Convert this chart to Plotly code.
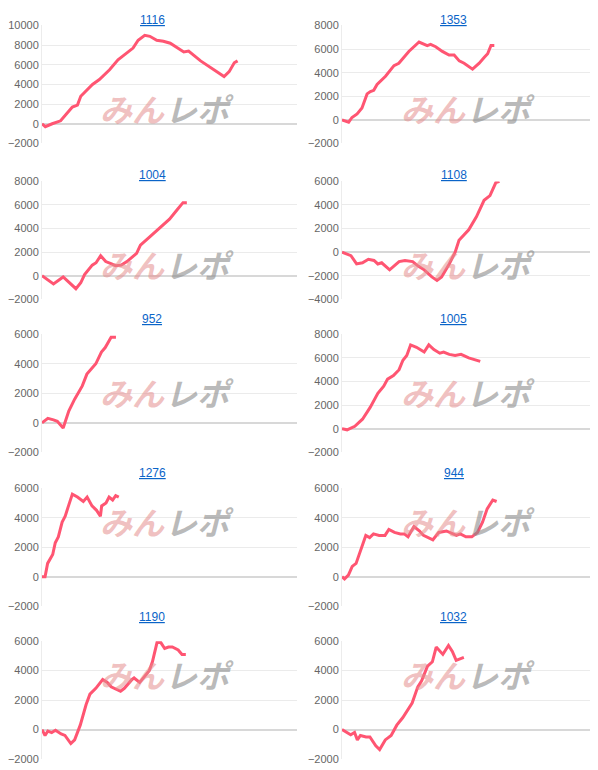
import plotly.graph_objects as go

titles = ["1116", "1353", "1004", "1108", "952", "1005", "1276", "944", "1190", "1032"]
yranges = [[-2000, 10000], [-2000, 8000], [-2000, 8000], [-4000, 6000], [-2000, 6000],
           [-2000, 8000], [-2000, 6000], [-2000, 6000], [-2000, 6000], [-2000, 6000]]

x_1116 = [0,1.3,4,7.3,11.9,13.9,15.2,19.8,22.5,26.5,29.8,33,35.7,37.7,40.3,42.3,45,47.6,50.3,55.6,57.5,62.2,66.1,71.4,73.4,75.4,76.7]
y_1116 = [0,-300,0,300,1700,1900,2800,4000,4500,5500,6500,7200,7700,8500,9000,8900,8500,8400,8200,7300,7400,6400,5700,4800,5300,6200,6400]
x_1353 = [0,2.6,3.9,5.9,7.8,9.8,11.1,12.4,13.7,17,20.3,22.2,26.1,30.1,33.3,34.6,36.6,39.2,41.8,43.8,45.8,47.7,51,53.6,55.6,56.9,58.2,59.5]
y_1353 = [0,-200,200,500,1000,2200,2400,2500,3000,3700,4600,4800,5800,6600,6300,6400,6200,5800,5500,5500,5000,4800,4300,4800,5300,5600,6300,6300]
x_1004 = [0,4.5,8.3,11.4,13.3,15.2,16.7,19.7,21.2,23,25,27.3,28.8,31.1,33.3,37.1,38.6,41.7,47,50,53,55.3,56.8]
y_1004 = [0,-700,-100,-700,-1100,-600,100,900,1100,1700,1200,1000,850,900,1200,1900,2600,3200,4200,4800,5600,6200,6200]
x_1108 = [0,3.5,5.7,8,10.3,12.5,14,15.5,18.6,22.3,24.6,27.6,29.9,32.1,35.1,37.1,38.9,41.9,44.2,45.7,49.5,52.5,55.5,57.8,60.1,61.5]
y_1108 = [0,-300,-1000,-900,-600,-700,-1000,-900,-1500,-800,-700,-800,-1200,-1500,-2100,-2400,-2100,-1000,0,1000,1900,3000,4400,4800,5900,6000]
x_952 = [0,2.3,4.5,6,8.3,10.5,12.8,15.8,17.6,21.1,23.3,24.8,27.1,29]
y_952 = [0,300,200,100,-350,800,1600,2500,3300,4000,4800,5100,5800,5800]
x_1005 = [0,2,5,8,11,14,16.3,17.8,20.1,22.3,23.8,25.3,26.8,29.1,32.1,33.9,35.9,38.2,39.7,41.9,44.2,46.5,49.5,54]
y_1005 = [0,-100,200,800,1800,3000,3600,4200,4500,5000,5800,6200,7100,6900,6500,7100,6700,6400,6500,6300,6200,6300,6000,5700]
x_1276 = [0,1.2,2.2,4.2,5.2,6.4,7.9,9.1,10.2,11.9,13.9,16.2,17.7,19.6,21.4,22.9,23.4,25.1,26.3,27.7,28.9,30.1]
y_1276 = [0,0,900,1500,2300,2700,3700,4100,4700,5600,5400,5100,5400,4800,4500,4100,4800,5000,5400,5200,5500,5400]
x_944 = [0,1,2.5,4,5.5,9.3,10.8,12.3,14.5,16.8,18.3,20.5,22.8,24.3,25.8,28.1,30.3,31.8,35.5,37.8,40.8,43.2,44.7,46.2,48.4,50.7,52.9,54.9,56.7,58.9,60.4]
y_944 = [0,-150,100,700,900,2800,2650,2900,2800,2800,3200,3000,2900,2900,2700,3400,3100,2800,2500,3000,3100,2900,2800,2900,2700,2700,3000,3700,4600,5200,5100]
x_1190 = [0,1.2,2.3,3.8,5.3,7.5,9,11.3,12.8,15,17.3,18.8,21.1,23.8,25.6,27.1,30.8,32.3,35.3,36.1,38.3,40.6,42.1,43.3,44.4,45.1,46.6,48.1,49.6,51.1,53.4,54.9,56.4]
y_1190 = [0,-400,-100,-200,-50,-300,-400,-950,-700,300,1700,2400,2800,3400,3200,2900,2600,2800,3400,3500,3200,3700,4000,4600,5400,5900,5900,5500,5600,5600,5400,5100,5100]
x_1032 = [0,1.9,3.4,4.9,6,7.2,9.4,10.9,13.2,14.7,16.9,19.2,21.4,23.7,25.1,27.4,29.6,31.1,33.4,35.3,36.8,39.4,41.6,43.1,44.6,46.1,47.6]
y_1032 = [0,-200,-350,-200,-700,-400,-500,-500,-1100,-1350,-700,-400,300,800,1200,1800,2900,3300,4300,4600,5600,5100,5700,5300,4700,4800,4900]

xs = [x_1116, x_1353, x_1004, x_1108, x_952, x_1005, x_1276, x_944, x_1190, x_1032]
ys = [y_1116, y_1353, y_1004, y_1108, y_952, y_1005, y_1276, y_944, y_1190, y_1032]

W, H = 598, 770


def py(p):
    # target pixel row -> paper fraction (corrects for page offset)
    return 1 - ((p - 12.5) / 0.985) / H


tops = [24, 180, 333, 487, 640]
ph = 118
xdom = [[34 / W, 289 / W], [334 / W, 590 / W]]
title_x = [144, 446]
wm_x = [157, 458]

fig = go.Figure()
ann = []
for i in range(10):
    r, c = divmod(i, 2)
    n = i + 1
    xa = "x" if n == 1 else f"x{n}"
    ya = "y" if n == 1 else f"y{n}"
    fig.add_trace(go.Scatter(x=xs[i], y=ys[i], mode="lines", xaxis=xa, yaxis=ya,
                             line=dict(color="#ff5572", width=3), showlegend=False,
                             hoverinfo="skip"))
    fig.layout[f"xaxis{n if n > 1 else ''}"] = dict(
        domain=xdom[c], range=[0, 100], showticklabels=False, showgrid=False,
        zeroline=False, anchor=ya, fixedrange=True)
    fig.layout[f"yaxis{n if n > 1 else ''}"] = dict(
        domain=[py(tops[r] + ph), py(tops[r])], range=yranges[i], dtick=2000, anchor=xa,
        tickformat="d",
        gridcolor="#ebebeb", gridwidth=1, zeroline=True, zerolinecolor="#d8d8d8",
        zerolinewidth=2, showline=True, linecolor="#ececec", linewidth=1,
        tickfont=dict(family="Arial, Liberation Sans", size=11, color="#666666"),
        ticks="", fixedrange=True)
    ann.append(dict(text=f"<u>{titles[i]}</u>", xref="paper", yref="paper",
                    x=title_x[c] / W, y=py(tops[r] - 15), xanchor="center", showarrow=False,
                    font=dict(family="Arial, Liberation Sans", size=12, color="#0a64c8")))
    mid = wm_x[c]
    ann.append(dict(text="<b><i>みん</i></b>", xref="paper", yref="paper",
                    x=(mid + 2) / W, y=py(tops[r] + 58), xanchor="right", showarrow=False,
                    font=dict(family="Noto Sans CJK JP", size=32, color="rgba(228,140,140,0.55)")))
    ann.append(dict(text="<b><i>レポ</i></b>", xref="paper", yref="paper",
                    x=(mid - 2) / W, y=py(tops[r] + 58), xanchor="left", showarrow=False,
                    font=dict(family="Noto Sans CJK JP", size=32, color="rgba(140,140,140,0.6)")))

fig.update_layout(width=W, height=H, margin=dict(l=0, r=0, t=0, b=0),
                  paper_bgcolor="white", plot_bgcolor="white", annotations=ann)
fig.write_html("out.html")
